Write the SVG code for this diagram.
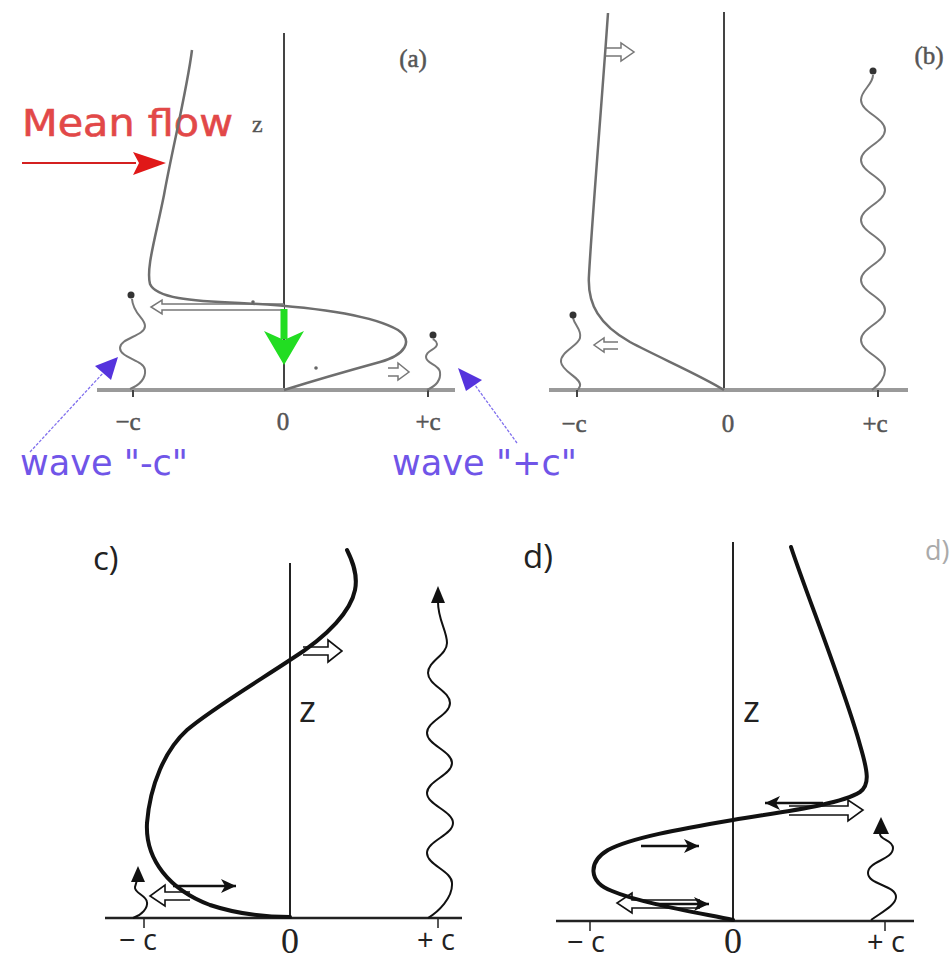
<svg xmlns="http://www.w3.org/2000/svg" width="952" height="960" viewBox="0 0 952 960">
<defs>
<style>
.gax{stroke:#444;stroke-width:2;fill:none}
.gbase{stroke:#9a9a9a;stroke-width:4;fill:none}
.gcur{stroke:#6e6e6e;stroke-width:2.5;fill:none}
.gwave{stroke:#777;stroke-width:2;fill:none}
.ghol{stroke:#777;stroke-width:1.5;fill:#fff}
.gtxt{font-family:"Liberation Serif",serif;font-size:25px;fill:#555;stroke:#555;stroke-width:0.5;text-anchor:middle}
.blue{font-family:"DejaVu Sans",sans-serif;font-size:35px;fill:#7055e8}
.ax{stroke:#222;stroke-width:2;fill:none}
.base{stroke:#222;stroke-width:2.5;fill:none}
.tick{stroke:#222;stroke-width:1.5}
.cur{stroke:#111;stroke-width:4;fill:none;stroke-linecap:round}
.wave{stroke:#111;stroke-width:2;fill:none}
.arr{stroke:#111;stroke-width:2.5;fill:none}
.hol{stroke:#111;stroke-width:1.6;fill:#fff;stroke-linejoin:miter}
.lab{font-family:"Open Sans",sans-serif;font-size:29px;fill:#222;text-anchor:middle}
.zero{font-family:"Liberation Serif",serif;font-size:36px;fill:#222;text-anchor:middle}
.pl{font-family:"Open Sans",sans-serif;font-size:33px;fill:#222}
</style>
<marker id="ah" markerUnits="userSpaceOnUse" markerWidth="16" markerHeight="16" refX="15" refY="7" orient="auto">
<path d="M0,0 L15,7 L0,14 L4,7 z" fill="#111"/>
</marker>
</defs>
<rect width="952" height="960" fill="#fff"/>

<g id="panel-a">
<line class="gax" x1="284" y1="33" x2="284" y2="390"/>
<line class="gbase" x1="97" y1="390" x2="455" y2="390"/>
<line class="gax" x1="133" y1="390" x2="133" y2="397" stroke-width="1.5"/>
<line class="gax" x1="428" y1="390" x2="428" y2="397" stroke-width="1.5"/>
<text class="gtxt" x="128" y="430">−c</text>
<text class="gtxt" x="283" y="430">0</text>
<text class="gtxt" x="428" y="430">+c</text>
<text class="gtxt" x="413" y="67">(a)</text>
<text x="252" y="132" style="font-family:'Liberation Serif',serif;font-size:24px;fill:#555;stroke:#555;stroke-width:0.4">z</text>
<text x="22" y="136" textLength="211" lengthAdjust="spacingAndGlyphs" style="font-family:'DejaVu Sans',sans-serif;font-size:38px;fill:#e24848;stroke:#e24848;stroke-width:0.6">Mean flow</text>
<line x1="22" y1="163" x2="136" y2="163" stroke="#d42020" stroke-width="2.2"/>
<polygon points="133,152 166,163 133,175 139,163" fill="#e01818"/>
<path class="ghol" d="M284,304 H162 V300 L151,307 L162,314 V310 H284"/>
<path class="gcur" d="M192,50 C187,90 172,150 164,195 C155,240 146,268 150,284 C156,298 190,301 240,303 C300,306 368,313 398,330 C414,341 405,355 380,362 C340,373 300,385 284,390"/>
<path class="ghol" d="M388,368 L398,368 V363 L409,372 L398,380 V376 L388,376"/>
<circle cx="253" cy="302" r="1.8" fill="#666"/>
<circle cx="316" cy="368" r="1.8" fill="#666"/>
<rect x="280.5" y="309" width="7" height="30" fill="#22dd22"/>
<polygon points="264,331 284,365 304,331 284,340" fill="#22dd22"/>
<path class="gwave" d="M130,389 C140,385 146,378 145,370 C144,360 120,358 120,348 C120,338 145,336 145,326 C145,318 133,314 132,299"/>
<circle cx="131" cy="295" r="3.5" fill="#333"/>
<path class="gwave" d="M427,390 C436,386 441,380 440,372 C439,364 426,364 426,357 C426,350 437,350 437,344 C437,341 434,340 433,339"/>
<circle cx="433" cy="335" r="3.5" fill="#333"/>
</g>

<g id="label-wave-minus">
<line x1="30" y1="452" x2="104" y2="372" stroke="#8070ee" stroke-width="1.3" stroke-dasharray="3,1.5"/>
<polygon points="118,357 111,380 95,366" fill="#5533dd"/>
<text class="blue" x="20" y="475" textLength="168" lengthAdjust="spacingAndGlyphs">wave "-c"</text>
</g>
<g id="label-wave-plus">
<line x1="517" y1="443" x2="472" y2="381" stroke="#8070ee" stroke-width="1.3" stroke-dasharray="3,1.5"/>
<polygon points="458,368 482,380 466,391" fill="#5533dd"/>
<text class="blue" x="392" y="475" textLength="185" lengthAdjust="spacingAndGlyphs">wave "+c"</text>
</g>

<g id="panel-b">
<line class="gax" x1="724" y1="12" x2="724" y2="390"/>
<line class="gbase" x1="549" y1="390" x2="908" y2="390"/>
<line class="gax" x1="577" y1="390" x2="577" y2="397" stroke-width="1.5"/>
<line class="gax" x1="878" y1="390" x2="878" y2="397" stroke-width="1.5"/>
<text class="gtxt" x="574" y="432">−c</text>
<text class="gtxt" x="728" y="432">0</text>
<text class="gtxt" x="875" y="432">+c</text>
<text class="gtxt" x="929" y="64">(b)</text>
<path class="ghol" d="M605,48 H621 V43 L634,52 L621,61 V56 H605"/>
<path class="gcur" d="M608,13 C602,100 592,220 589,275 C587,305 600,325 630,342 C660,358 700,375 724,390"/>
<path class="ghol" d="M618,342 H604 V338 L594,345 L604,352 V349 H618" stroke-width="1.2"/>
<path class="gwave" d="M573,318 C575,326 582,330 580,338 C578,346 560,352 561,362 C562,372 582,378 580,386 L578,390"/>
<circle cx="573" cy="315" r="3.5" fill="#333"/>
<path class="gwave" d="M872,390 C880,384 885,378 885,370 C885,358 861,352 861,340 C861,328 885,322 885,310 C885,298 861,292 861,280 C861,268 885,262 885,250 C885,238 861,232 861,220 C861,208 885,202 885,190 C885,178 861,172 861,160 C861,148 885,142 885,130 C885,118 861,112 861,100 C861,90 873,85 873,75"/>
<circle cx="873" cy="71" r="3.5" fill="#333"/>
</g>

<text x="925" y="560" style="font-family:'Open Sans',sans-serif;font-size:27px;fill:#aaa">d)</text>

<g id="panel-c">
<text class="pl" x="93" y="570">c)</text>
<line class="ax" x1="290" y1="563" x2="290" y2="918"/>
<line class="base" x1="105" y1="918" x2="462" y2="918"/>
<line class="tick" x1="144" y1="918" x2="144" y2="928"/>
<line class="tick" x1="438" y1="918" x2="438" y2="928"/>
<text class="lab" x="138" y="950">− c</text>
<text class="zero" x="290" y="953">0</text>
<text class="lab" x="436" y="950">+ c</text>
<text class="pl" x="299" y="722" style="font-size:36px">z</text>
<path class="hol" d="M303,647 H328 V640 L342,651 L328,662 V655 H303"/>
<path class="hol" d="M190,892 H165 V885 L150,896 L165,906 V900 H190"/>
<line class="arr" x1="173" y1="886" x2="236" y2="886" marker-end="url(#ah)"/>
<path class="cur" d="M347,550 C353,562 358,575 355,590 C351,610 330,635 290,660 C260,680 210,710 187,730 C165,750 150,785 147,823 C145,860 170,890 210,905 C240,915 270,917 290,917"/>
<path class="wave" d="M428,918 C438,912 453,898 452,883 C452,871 427,865 427,853 C427,841 453,835 453,823 C453,811 427,805 427,793 C427,781 452,775 452,763 C452,751 427,745 427,733 C427,721 450,715 450,703 C450,691 428,685 428,673 C428,661 447,655 447,643 C447,631 438,620 438,602"/>
<polygon points="438,586 431,603 445,603" fill="#111"/>
<path class="wave" d="M133,918 C142,915 148,908 147,902 C146,895 134,893 135,887 L137,880"/>
<polygon points="138,866 131,882 145,882" fill="#111"/>
</g>

<g id="panel-d">
<text class="pl" x="523" y="568">d)</text>
<line class="ax" x1="733" y1="542" x2="733" y2="921"/>
<line class="base" x1="556" y1="921" x2="914" y2="921"/>
<line class="tick" x1="590" y1="921" x2="590" y2="931"/>
<line class="tick" x1="885" y1="921" x2="885" y2="931"/>
<text class="lab" x="586" y="952">− c</text>
<text class="zero" x="733" y="953">0</text>
<text class="lab" x="886" y="952">+ c</text>
<text class="pl" x="743" y="722" style="font-size:36px">z</text>
<path class="hol" d="M789,806 H848 V800 L863,810 L848,821 V815 H789"/>
<line class="arr" x1="823" y1="803" x2="765" y2="803" marker-end="url(#ah)"/>
<line class="arr" x1="641" y1="846" x2="699" y2="846" marker-end="url(#ah)"/>
<path class="hol" d="M700,900 H632 V893 L617,903 L632,913 V908 H700"/>
<line class="arr" x1="655" y1="904" x2="709" y2="904" marker-end="url(#ah)"/>
<path class="cur" d="M791,547 C805,590 845,690 860,745 C868,772 870,785 860,792 C840,805 780,812 733,820 C680,829 630,838 608,850 C588,862 588,882 612,891 C640,903 700,913 733,920"/>
<path class="wave" d="M871,920 C882,912 896,905 896,897 C896,885 868,885 868,873 C868,861 893,860 893,848 C893,840 880,840 880,834"/>
<polygon points="881,817 873,834 889,834" fill="#111"/>
</g>
</svg>
